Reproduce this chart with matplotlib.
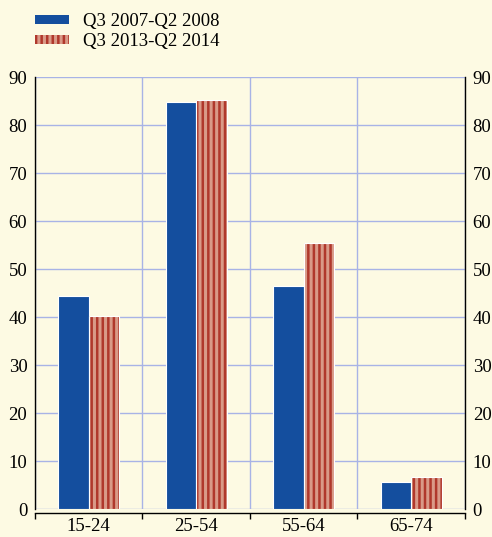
"""Employment by age group: two periods, grouped bars."""

import matplotlib

matplotlib.use("Agg")
import matplotlib.pyplot as plt  # noqa: E402
import numpy as np  # noqa: E402
from matplotlib.patches import Patch  # noqa: E402

age_groups = ["15-24", "25-54", "55-64", "65-74"]
period_labels = ["Q3 2007-Q2 2008", "Q3 2013-Q2 2014"]
values_2007 = [44.4, 84.9, 46.4, 5.6]
values_2013 = [40.3, 85.3, 55.4, 6.7]
y_ticks = list(range(0, 100, 10))

BACKGROUND = "#FDFAE3"
BLUE = "#144E9E"
SALMON = "#D99A88"
DARK_RED = "#B0382C"
GRID = "#A8B3E6"

plt.rcParams["font.family"] = ["Liberation Serif", "DejaVu Serif"]
plt.rcParams["hatch.linewidth"] = 1.8

figure = plt.figure(figsize=(4.92, 5.37), dpi=100, facecolor=BACKGROUND)
axis = figure.add_axes([0.0711, 0.0516, 0.8740, 0.8050])
axis.set_facecolor(BACKGROUND)

x = np.arange(len(age_groups))
width = 0.285
axis.bar(x - width / 2, values_2007, width, color=BLUE, edgecolor="white",
         linewidth=0.8, zorder=3)
axis.bar(x + width / 2, values_2013, width, color=SALMON, edgecolor=DARK_RED,
         linewidth=0, hatch="|||", zorder=3)
axis.bar(x + width / 2, values_2013, width, fill=False, edgecolor="white",
         linewidth=0.8, zorder=4)

axis.set_xlim(-0.5, len(age_groups) - 0.5)
axis.set_ylim(0, 90)
axis.set_yticks(y_ticks)
axis.set_xticks(x)
axis.set_xticklabels(age_groups)
axis.set_xticks(np.arange(-0.5, len(age_groups)), minor=True)

axis.grid(axis="y", color=GRID, linewidth=1.0, zorder=0)
axis.grid(axis="x", which="minor", color=GRID, linewidth=1.0, zorder=0)
axis.set_axisbelow(True)

axis.tick_params(axis="y", left=False, right=False, labelleft=True,
                 labelright=True, labelsize=13.5, pad=2)
axis.tick_params(axis="x", which="major", length=0, labelsize=13.5, pad=3)
axis.tick_params(axis="x", which="minor", length=4, width=1.0, direction="out")

axis.spines["top"].set_visible(False)
axis.spines["bottom"].set_position(("outward", 3))
for side in ("left", "right", "bottom"):
    axis.spines[side].set_color("black")
    axis.spines[side].set_linewidth(1.0)

handles = [
    Patch(facecolor=BLUE, edgecolor=BLUE, linewidth=0),
    Patch(facecolor=SALMON, edgecolor=DARK_RED, linewidth=0, hatch="|||"),
]
figure.legend(handles, period_labels, loc="upper left",
              bbox_to_anchor=(0.045, 1.0), frameon=False, fontsize=13.5,
              handlelength=1.8, handleheight=0.33, handletextpad=0.75,
              labelspacing=0.15, borderaxespad=0.3)

figure.savefig("out.png", dpi=100, facecolor=BACKGROUND)
plt.close(figure)
